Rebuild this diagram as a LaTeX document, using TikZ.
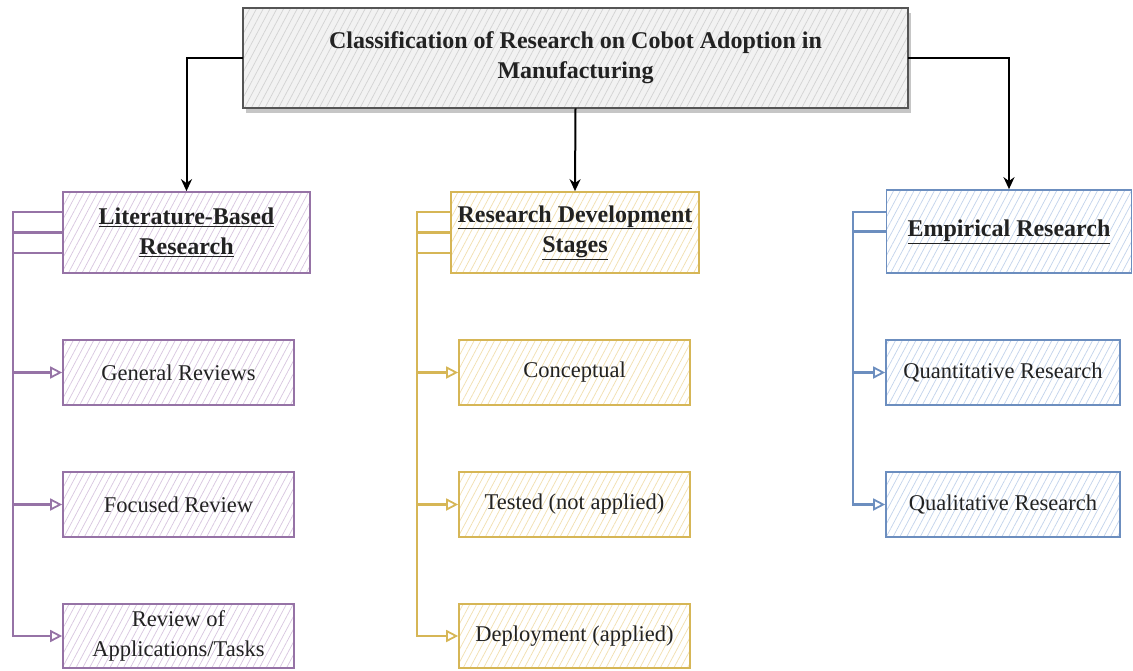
\documentclass[tikz,border=0pt]{standalone}
\usepackage{fontspec}
\setmainfont{Liberation Serif}
\usetikzlibrary{arrows.meta,patterns.meta,shadows,calc}

\definecolor{purpleline}{HTML}{9673A6}
\definecolor{purplehatch}{HTML}{D8C6E0}
\definecolor{goldline}{HTML}{D6B656}
\definecolor{goldhatch}{HTML}{F2DFAE}
\definecolor{blueline}{HTML}{6C8EBF}
\definecolor{bluehatch}{HTML}{C2D3EC}
\definecolor{greyline}{HTML}{555555}
\definecolor{greyhatch}{HTML}{D2D2D2}
\definecolor{greyfill}{HTML}{F2F2F2}
\definecolor{inktext}{HTML}{222222}

\tikzset{
  hatchbox/.style 2 args={draw=#1, line width=1.7pt, rectangle, align=center,
    text=inktext, inner sep=1pt,
    preaction={fill=white},
    pattern={Lines[angle=62,distance=6pt,line width=0.7pt]}, pattern color=#2},
  litbox/.style={hatchbox={purpleline}{purplehatch}},
  stagebox/.style={hatchbox={goldline}{goldhatch}},
  empbox/.style={hatchbox={blueline}{bluehatch}},
  headfont/.style={font=\fontsize{24}{30}\selectfont\bfseries},
  itemfont/.style={font=\fontsize{22.5}{30}\selectfont},
  mainarrow/.style={draw=black, line width=2pt, -{Stealth[length=12pt,width=11pt]}},
  branch/.style={line width=2.2pt, -{Triangle[open,length=12pt,width=12pt,line width=1.8pt]}},
}

\begin{document}
\begin{tikzpicture}[x=1pt,y=-1pt]
\useasboundingbox (0,0) rectangle (1133,670);

% root
\node[draw=greyline, line width=1.7pt, align=center, text=inktext,
      drop shadow={shadow xshift=3pt, shadow yshift=-5pt, opacity=0.45},
      preaction={fill=greyfill},
      pattern={Lines[angle=62,distance=6pt,line width=0.7pt]}, pattern color=greyhatch,
      minimum width=665, minimum height=100, headfont]
  (root) at (575.5,58) {Classification of Research on Cobot Adoption in\\Manufacturing};

% literature-based column
\node[litbox, minimum width=247, minimum height=81, headfont] (lit) at (186.5,232.5)
  {\underline{Literature-Based}\\\underline{Research}};
\node[litbox, minimum width=231, minimum height=65, itemfont] (gen) at (178.5,372.5) {General Reviews};
\node[litbox, minimum width=231, minimum height=65, itemfont] (foc) at (178.5,504.5) {Focused Review};
\node[litbox, minimum width=231, minimum height=64, itemfont] (app) at (178.5,636)
  {Review of\\Applications/Tasks};

% research development stages column
\node[stagebox, minimum width=248, minimum height=81, headfont] (rds) at (575,232.5)
  {\underline{Research Development}\\\underline{Stages}};
\node[stagebox, minimum width=231, minimum height=65, itemfont] (con) at (574.5,372.5) {Conceptual};
\node[stagebox, minimum width=231, minimum height=65, itemfont] (tst) at (574.5,504.5) {Tested (not applied)};
\node[stagebox, minimum width=231, minimum height=64, itemfont] (dep) at (574.5,636) {Deployment (applied)};

% empirical column
\node[empbox, minimum width=245, minimum height=83, headfont] (emp) at (1009,231.5)
  {\underline{Empirical Research}};
\node[empbox, minimum width=234, minimum height=65, itemfont] (qnt) at (1003,372.5) {Quantitative Research};
\node[empbox, minimum width=234, minimum height=65, itemfont] (qlt) at (1003,504.5) {Qualitative Research};

% root to category connectors
\draw[mainarrow] (root.west) -| (lit.north);
\draw[mainarrow] (root.south) -- (rds.north);
\draw[mainarrow] (root.east) -| (emp.north);

% literature branches
\draw[branch, draw=purpleline] ($(lit.north west)!0.25!(lit.south west)$) -- ++(-49,0) |- (gen.west);
\draw[branch, draw=purpleline] ($(lit.north west)!0.5!(lit.south west)$) -- ++(-49,0) |- (foc.west);
\draw[branch, draw=purpleline] ($(lit.north west)!0.75!(lit.south west)$) -- ++(-49,0) |- (app.west);

% stage branches
\draw[branch, draw=goldline] ($(rds.north west)!0.25!(rds.south west)$) -- ++(-33,0) |- (con.west);
\draw[branch, draw=goldline] ($(rds.north west)!0.5!(rds.south west)$) -- ++(-33,0) |- (tst.west);
\draw[branch, draw=goldline] ($(rds.north west)!0.75!(rds.south west)$) -- ++(-33,0) |- (dep.west);

% empirical branches
\draw[branch, draw=blueline] ($(emp.north west)!0.27!(emp.south west)$) -- ++(-33,0) |- (qnt.west);
\draw[branch, draw=blueline] ($(emp.north west)!0.5!(emp.south west)$) -- ++(-33,0) |- (qlt.west);
\end{tikzpicture}
\end{document}
